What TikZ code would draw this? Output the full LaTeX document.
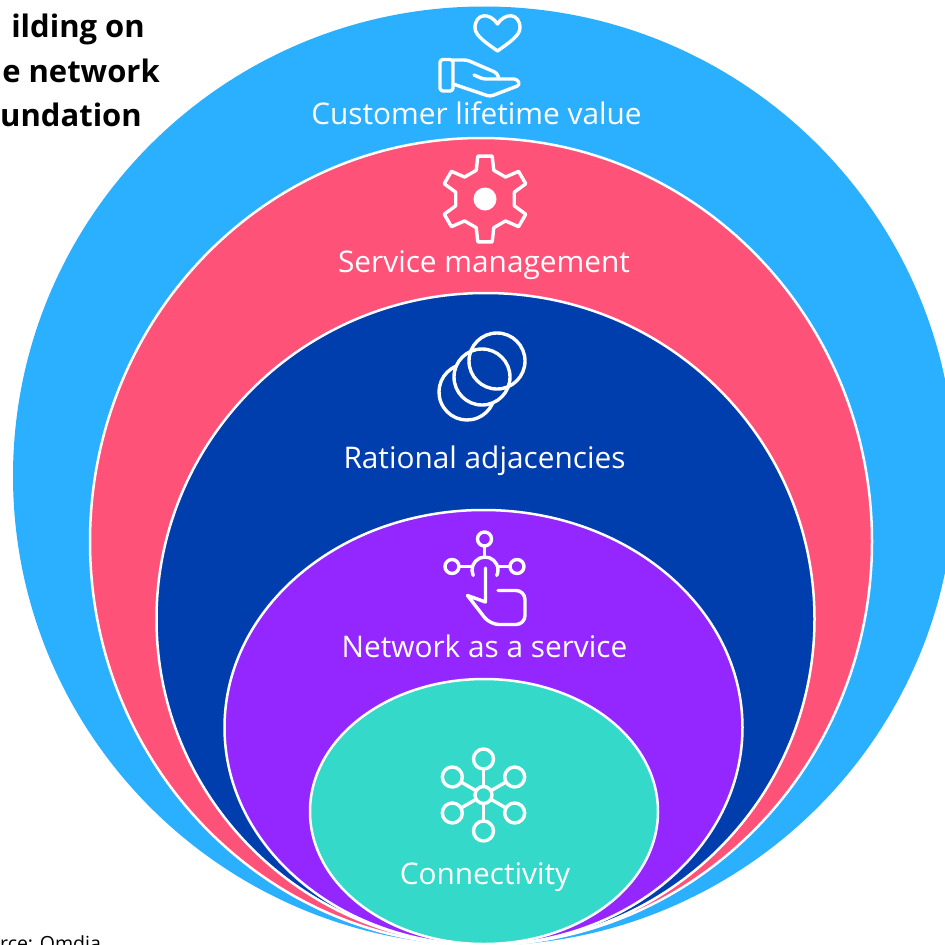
\documentclass[tikz,border=0pt]{standalone}
\usepackage{xcolor}
\usepackage{fontspec}
\setmainfont{Open Sans}
\definecolor{skyblue}{HTML}{2BB0FF}
\definecolor{rosered}{HTML}{FF5278}
\definecolor{deepnavy}{HTML}{003DAD}
\definecolor{violetfill}{HTML}{9427FF}
\definecolor{tealfill}{HTML}{35D9C9}
\tikzstyle{ring} = [draw=white, line width=2.5pt]
\tikzstyle{ringlabel} = [anchor=base, text=white, inner sep=0pt, font=\fontsize{29.8}{36}\selectfont]
\tikzstyle{titleline} = [anchor=base east, text=black, inner sep=0pt, font=\fontsize{31}{36}\selectfont\bfseries]
\tikzstyle{iconline} = [draw=white, line width=3.4pt, line join=round, line cap=round]

\begin{document}
\begin{tikzpicture}[x=1pt, y=-1pt]
	\useasboundingbox (0,0) rectangle (945,945);
	\clip (0,0) rectangle (945,945);

	% rings
	\fill [skyblue] (484,476) ellipse [x radius=471pt, y radius=469.5pt];
	\filldraw [ring, fill=rosered] (481,541.5) ellipse [x radius=391pt, y radius=403.5pt];
	\filldraw [ring, fill=deepnavy] (485.5,619) ellipse [x radius=329pt, y radius=326pt];
	\filldraw [ring, fill=violetfill] (483.5,727.5) ellipse [x radius=259pt, y radius=217.5pt];
	\filldraw [ring, fill=tealfill] (484,811.5) ellipse [x radius=174pt, y radius=132.5pt];

	\node (title1) [titleline] at (145,37) {ilding on};
	\node (title2) [titleline] at (160,82) {e network};
	\node (title3) [titleline] at (142,126) {undation};
	\node (source) [anchor=base west, inner sep=0pt, font=\fontsize{19.5}{22}\selectfont] at (0,950) {rce: Omdia};

	\node (lifetime) [ringlabel] at (476.5,124) {Customer lifetime value};
	\node (service) [ringlabel] at (484,272) {Service management};
	\node (rational) [ringlabel] at (484.5,468) {Rational adjacencies};
	\node (naas) [ringlabel] at (484.5,657) {Network as a service};
	\node (connectivity) [ringlabel] at (485,884) {Connectivity};

	% heart and hand
	\draw [iconline] (497.5,24) .. controls (490,12) and (475,13) .. (475,28) .. controls (475,36) and (488,44) .. (497.5,51) .. controls (507,44) and (520,36) .. (520,28) .. controls (520,13) and (505,12) .. (497.5,24) -- cycle;
	\draw [iconline, rounded corners=3pt] (440,59.5) rectangle (453,91);
	\draw [iconline, rounded corners=3pt] (453,60) -- (467,60) -- (497,73) -- (499,79);
	\draw [iconline, rounded corners=3pt] (474,75) -- (483,79) -- (517,79) -- (520,85) -- (490,96.5) -- (453,84);

	% gear
	\begin{scope}[shift={(485,199)}]
		\draw [iconline] (13:30pt) \foreach \a in {30,90,150,210,270,330} {-- (\a-17:30pt) -- (\a-9.5:43.5pt) -- (\a+9.5:43.5pt) -- (\a+17:30pt)} -- cycle;
		\fill [white] (0,0) circle (11.5pt);
	\end{scope}

	% overlapping circles
	\draw [iconline] (497,361) circle (28pt);
	\draw [iconline] (482,377) circle (28pt);
	\draw [iconline] ([shift={(112:28pt)}]467,392) arc [start angle=112, end angle=335, radius=28pt];

	% pointer
	\draw [iconline] (484.5,539) circle (7pt);
	\draw [iconline] (452,566.5) circle (7pt);
	\draw [iconline] (517,566.5) circle (7pt);
	\draw [iconline] (484.5,546) -- (484.5,556);
	\draw [iconline] (459,566.5) -- (471,566.5);
	\draw [iconline] (498,566.5) -- (510,566.5);
	\draw [iconline] ([shift={(205:13pt)}]485,570) arc [start angle=205, end angle=-25, radius=13pt];
	\draw [iconline] (485.5,568) -- (485.5,602) -- (467.5,595.5) [rounded corners=9pt] -- (490,624.5) -- (525,624.5) -- (525,590.5) -- (498,590.5);

	% network
	\begin{scope}[shift={(483.5,795)}]
		\draw [iconline] (0,0) circle (8.5pt);
		\foreach \a in {30,90,150,210,270,330} {
			\draw [iconline] (\a:8.5pt) -- (\a:26pt);
			\draw [iconline] (\a:36pt) circle (10pt);
		}
	\end{scope}

\end{tikzpicture}
\end{document}
